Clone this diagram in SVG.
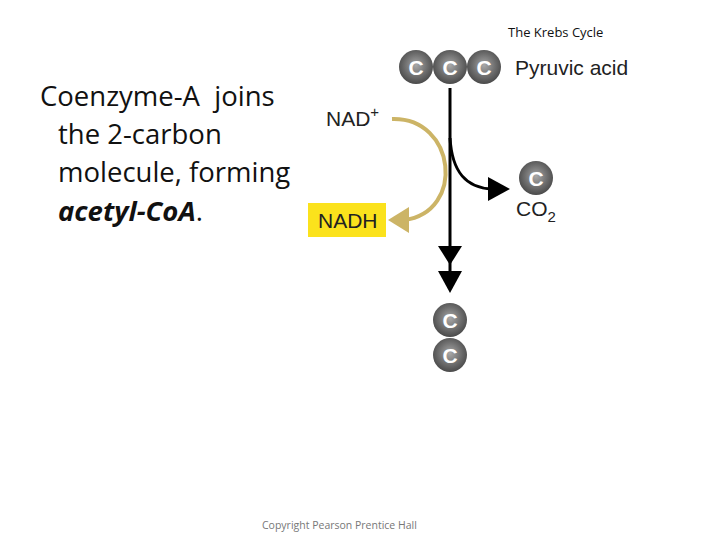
<svg xmlns="http://www.w3.org/2000/svg" width="720" height="540" viewBox="0 0 720 540">
<defs>
<radialGradient id="cg" cx="0.5" cy="0.45" r="0.55">
<stop offset="0" stop-color="#a8a8a8"/>
<stop offset="0.6" stop-color="#6e6e6e"/>
<stop offset="1" stop-color="#4a4a4a"/>
</radialGradient>
<style>
.atom circle{fill:url(#cg)}
.atom text{font-family:"Liberation Sans",Arial,sans-serif;font-weight:bold;font-size:21px;fill:#fff;text-anchor:middle}
.lbl{font-family:"Liberation Sans",Arial,sans-serif;font-size:21px;fill:#222}
.body{font-family:"Open Sans","DejaVu Sans",sans-serif;font-size:27.5px;fill:#111}
</style>
</defs>
<rect width="720" height="540" fill="#fff"/>
<text x="508" y="37" font-family="'Open Sans',sans-serif" font-size="13" fill="#111">The Krebs Cycle</text>
<g id="description">
<text class="body" x="40" y="106" xml:space="preserve">Coenzyme-A  joins</text>
<text class="body" x="58" y="144">the 2-carbon</text>
<text class="body" x="58" y="182">molecule, forming</text>
<text class="body" x="58" y="221"><tspan font-weight="bold" font-style="italic">acetyl-CoA</tspan>.</text>
</g>
<g id="connectors">
<line x1="450" y1="88" x2="450" y2="272" stroke="#000" stroke-width="3"/>
<polygon points="438,246 462,246 450,265" fill="#000"/>
<polygon points="438,271 462,271 450,293" fill="#000"/>
<path d="M450,138 C452,172 466,188 492,189" fill="none" stroke="#000" stroke-width="3"/>
<polygon points="488,177 510,189 488,201" fill="#000"/>
<path d="M392,119 C456,117 466,212 404,220" fill="none" stroke="#ccb466" stroke-width="4"/>
<polygon points="388,220 409,207 409,233" fill="#ccb466"/>
</g>
<g id="pyruvic">
<g class="atom"><circle cx="416" cy="67" r="17"/><text x="416" y="75">C</text></g>
<g class="atom"><circle cx="450" cy="67" r="17"/><text x="450" y="75">C</text></g>
<g class="atom"><circle cx="484" cy="67" r="17"/><text x="484" y="75">C</text></g>
<text class="lbl" x="515" y="75" font-size="22">Pyruvic acid</text>
</g>
<g id="nadplus">
<text class="lbl" x="326" y="126">NAD<tspan font-size="15" dy="-9">+</tspan></text>
</g>
<g id="nadh">
<rect x="308" y="203" width="78" height="34" fill="#fbe21c"/>
<text class="lbl" x="318" y="228" font-size="21.5">NADH</text>
</g>
<g id="co2">
<g class="atom"><circle cx="536" cy="178" r="17"/><text x="536" y="186">C</text></g>
<text class="lbl" x="516" y="216">CO<tspan font-size="15" dy="6">2</tspan></text>
</g>
<g id="acetyl">
<g class="atom"><circle cx="450" cy="320" r="17"/><text x="450" y="328">C</text></g>
<g class="atom"><circle cx="450" cy="355" r="17"/><text x="450" y="363">C</text></g>
</g>
<text x="262" y="529" font-family="'Open Sans',sans-serif" font-size="10.5" fill="#777">Copyright Pearson Prentice Hall</text>
</svg>
